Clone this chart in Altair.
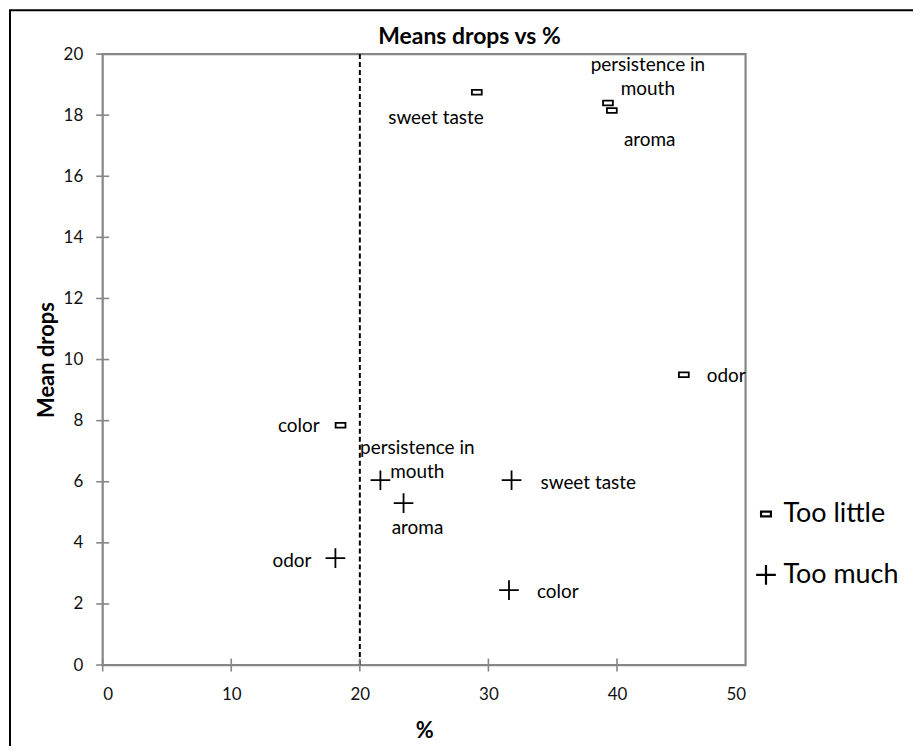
import altair as alt
import pandas as pd

# ---- data ----
attributes = ["sweet taste", "persistence in mouth", "aroma", "odor", "color"]
too_little_pct = [29.1, 39.3, 39.6, 45.2, 18.5]
too_little_drops = [18.75, 18.4, 18.15, 9.5, 7.85]
too_much_pct = [31.8, 21.6, 23.4, 18.1, 31.6]
too_much_drops = [6.05, 6.05, 5.3, 3.5, 2.45]
series_names = ["Too little", "Too much"]
x_ticks = [0, 10, 20, 30, 40, 50]
y_ticks = [0, 2, 4, 6, 8, 10, 12, 14, 16, 18, 20]
threshold = [20]
chart_title = ["Means drops vs %"]

rows = []
for a, p, d in zip(attributes, too_little_pct, too_little_drops):
    rows.append({"series": "Too little", "attribute": a, "pct": p, "drops": d})
for a, p, d in zip(attributes, too_much_pct, too_much_drops):
    rows.append({"series": "Too much", "attribute": a, "pct": p, "drops": d})
df = pd.DataFrame(rows)
df["label"] = df["attribute"].str.replace("persistence in mouth", "persistence in\nmouth")

FONT = "Lato"
GRAY = "#868686"
LBL = 19

xscale = alt.Scale(domain=[0, 50], nice=False, zero=True)
yscale = alt.Scale(domain=[0, 20], nice=False, zero=True)

rect_path = "M-0.5,-0.24H0.5V0.24H-0.5Z"
plus_path = "M-1,0H1M0,-1V1"

points = alt.Chart(df).mark_point(filled=False, stroke="black", strokeWidth=1.8, opacity=1, size=390).encode(
    x=alt.X("pct:Q", scale=xscale,
            axis=alt.Axis(values=x_ticks, title="%", domain=False, ticks=False, tickSize=0, grid=False,
                          labelPadding=22, labelFontSize=17, labelFont=FONT, labelColor="#111",
                          titleFont=FONT, titleFontSize=22, titleFontWeight="bold", titlePadding=18,
                          titleColor="black")),
    y=alt.Y("drops:Q", scale=yscale,
            axis=alt.Axis(values=y_ticks, title="Mean drops", domain=False, ticks=False, tickSize=0, grid=False,
                          labelPadding=20, labelFontSize=17, labelFont=FONT, labelColor="#111",
                          titleFont=FONT, titleFontSize=22, titleFontWeight="bold", titlePadding=5,
                          titleColor="black")),
    shape=alt.Shape("series:N", scale=alt.Scale(domain=series_names, range=[rect_path, plus_path]),
                    legend=alt.Legend(title=None, orient="none", legendX=652, legendY=448,
                                      labelFont=FONT, labelFontSize=27, labelColor="black",
                                      symbolSize=390, symbolStrokeColor="black", symbolFillColor="black",
                                      symbolStrokeWidth=2.2, rowPadding=33, labelOffset=4)),
)

# label placement: (series, attribute) -> (dx, dy, align); dy is for the first line
placements = {
    ("Too little", "sweet taste"): (-41, 26, "center"),
    ("Too little", "persistence in mouth"): (40, -38, "center"),
    ("Too little", "aroma"): (38, 30, "center"),
    ("Too little", "odor"): (23, 1, "left"),
    ("Too little", "color"): (-21, 1, "right"),
    ("Too much", "persistence in mouth"): (37, -32, "center"),
    ("Too much", "aroma"): (14, 25, "center"),
    ("Too much", "sweet taste"): (29, 3, "left"),
    ("Too much", "odor"): (-24, 3, "right"),
    ("Too much", "color"): (28, 2, "left"),
}

labels = []
for (s, a), (dx, dy, al) in placements.items():
    labels.append(
        alt.Chart(df).transform_filter(
            (alt.datum.series == s) & (alt.datum.attribute == a)
        ).mark_text(dx=dx, dy=dy, align=al, baseline="middle", font=FONT, fontSize=LBL,
                    color="black", lineBreak="\n", lineHeight=24).encode(
            x=alt.X("pct:Q", scale=xscale), y=alt.Y("drops:Q", scale=yscale), text="label:N")
    )

vline = alt.Chart(pd.DataFrame({"x": threshold})).mark_rule(
    color="black", strokeWidth=2, strokeDash=[5, 3]).encode(
    x=alt.X("x:Q", scale=xscale), y=alt.datum(0), y2=alt.datum(20))

yt = alt.Chart(pd.DataFrame({"v": y_ticks})).mark_tick(
    orient="horizontal", size=13, thickness=1.6, color=GRAY, opacity=1).encode(
    y=alt.Y("v:Q", scale=yscale), x=alt.datum(0))
xt = alt.Chart(pd.DataFrame({"v": x_ticks[:-1]})).mark_tick(
    orient="vertical", size=13, thickness=1.6, color=GRAY, opacity=1).encode(
    x=alt.X("v:Q", scale=xscale), y=alt.datum(0))

frame = alt.Chart(pd.DataFrame({"a": [0]})).mark_rect(
    fill="transparent", stroke="black", strokeWidth=2).encode(
    x=alt.value(-93), x2=alt.value(1500), y=alt.value(-44), y2=alt.value(1500))

title = alt.Chart(pd.DataFrame({"t": chart_title})).mark_text(
    font=FONT, fontSize=23, fontWeight="bold", color="black", align="center", baseline="alphabetic").encode(
    x=alt.value(368), y=alt.value(-10), text="t:N")

chart = alt.layer(frame, vline, yt, xt, points, title, *labels).properties(
    width=645, height=613,
    background="white",
    autosize=alt.AutoSizeParams(type="none"),
    padding={"left": 95, "top": 45, "right": 168, "bottom": 80},
).configure_view(stroke=GRAY, strokeWidth=2.2)

chart.save("out.html", embed_options={"renderer": "svg", "actions": False})
